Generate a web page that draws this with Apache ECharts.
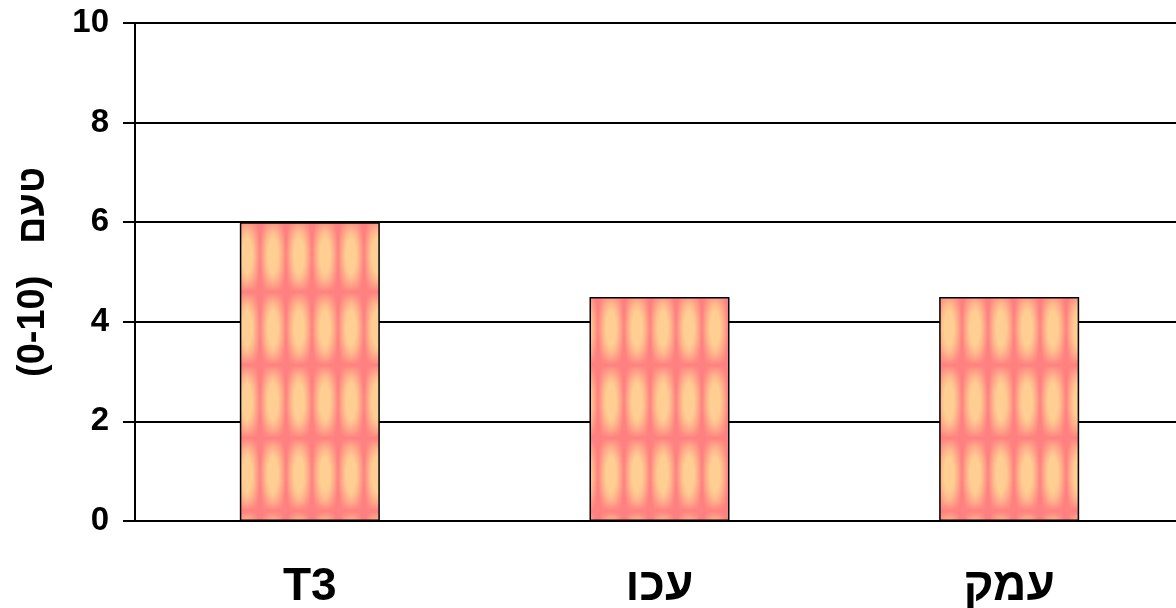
<!DOCTYPE html>
<html>
<head>
<meta charset="utf-8">
<style>
html,body{margin:0;padding:0;background:#fff;}
#chart{width:1176px;height:608px;}
</style>
<script src="https://cdn.jsdelivr.net/npm/echarts@6/dist/echarts.min.js"></script>
</head>
<body>
<div id="chart"></div>
<script>
var categories = ['T3', 'עכו', 'עמק'];
var values = [6, 4.5, 4.5];
var yTicks = [0, 2, 4, 6, 8, 10];
var yAxisName = '(0-10)   טעם';

function makeTile() {
  var w = 26, h = 73;
  var c = document.createElement('canvas');
  c.width = w; c.height = h;
  var ctx = c.getContext('2d');
  var img = ctx.createImageData(w, h);
  var pink = [255, 128, 128], yel = [255, 206, 146];
  for (var y = 0; y < h; y++) {
    for (var x = 0; x < w; x++) {
      var dx = Math.abs(x + 0.5 - w / 2) / (w / 2);
      var dy = Math.abs(y + 0.5 - h / 2) / (h / 2);
      var fx = Math.max(0, 1 - Math.pow(dx, 1.6) / (1 - 0.35 * dy * dy));
      var fy = Math.max(0, 1 - Math.pow(dy, 2.2));
      var f = Math.min(1, fx * fy * 1.25);
      var i = (y * w + x) * 4;
      img.data[i] = pink[0] + (yel[0] - pink[0]) * f;
      img.data[i + 1] = pink[1] + (yel[1] - pink[1]) * f;
      img.data[i + 2] = pink[2] + (yel[2] - pink[2]) * f;
      img.data[i + 3] = 255;
    }
  }
  ctx.putImageData(img, 0, 0);
  return c;
}

var chart = echarts.init(document.getElementById('chart'));
chart.setOption({
  animation: false,
  grid: {left: 135, width: 1049, top: 23, bottom: 87, containLabel: false, outerBoundsMode: 'none'},
  xAxis: {
    type: 'category',
    data: categories,
    axisLine: {lineStyle: {color: '#000', width: 2}},
    axisTick: {show: false},
    axisLabel: {color: '#000', fontFamily: 'Liberation Sans, Arial, sans-serif', fontWeight: 'bold', fontSize: 46, margin: 43}
  },
  yAxis: {
    type: 'value',
    min: yTicks[0],
    max: yTicks[yTicks.length - 1],
    interval: 2,
    name: yAxisName,
    nameLocation: 'middle',
    nameGap: 82,
    nameRotate: 90,
    nameTextStyle: {color: '#000', fontFamily: 'Liberation Sans, Arial, sans-serif', fontWeight: 'bold', fontSize: 38},
    axisLine: {show: true, lineStyle: {color: '#000', width: 2}},
    axisTick: {show: true, length: 12, lineStyle: {color: '#000', width: 2}},
    axisLabel: {color: '#000', fontFamily: 'Liberation Sans, Arial, sans-serif', fontWeight: 'bold', fontSize: 33, margin: 26},
    splitLine: {show: true, lineStyle: {color: '#000', width: 2}}
  },
  series: [{
    type: 'bar',
    data: values,
    barWidth: 140,
    itemStyle: {
      color: {image: makeTile(), repeat: 'repeat'},
      borderColor: '#000',
      borderWidth: 1.5
    }
  }]
});
</script>
</body>
</html>
